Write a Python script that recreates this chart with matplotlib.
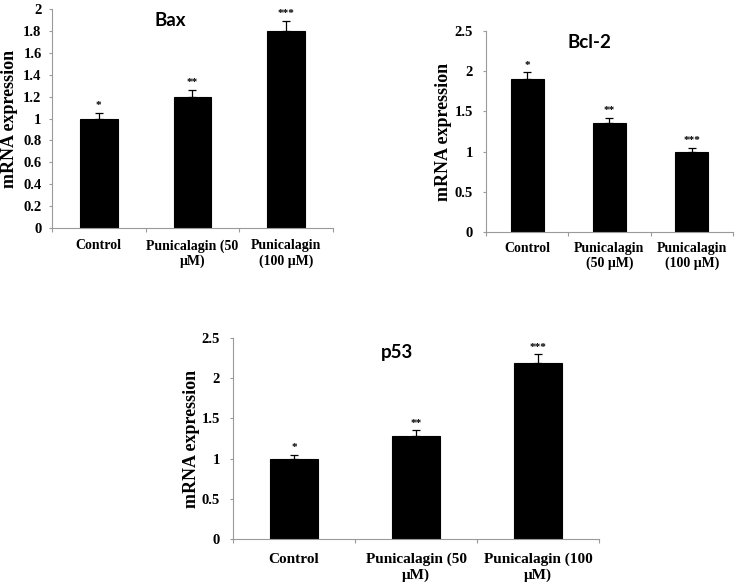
import matplotlib
matplotlib.use("Agg")
import matplotlib.pyplot as plt
from matplotlib.ticker import FuncFormatter, FixedLocator
import numpy as np

# ---- data ----
bax_labels = ["Control", "Punicalagin (50\nμM)", "Punicalagin\n(100 μM)"]
bax_values = [1.0, 1.2, 1.8]
bax_err = [0.05, 0.06, 0.09]
bax_stars = ["*", "**", "***"]

bcl_labels = ["Control", "Punicalagin\n(50 μM)", "Punicalagin\n(100 μM)"]
bcl_values = [1.9, 1.35, 1.0]
bcl_err = [0.09, 0.07, 0.05]
bcl_stars = ["*", "**", "***"]

p53_labels = ["Control", "Punicalagin (50\nμM)", "Punicalagin (100\nμM)"]
p53_values = [1.0, 1.28, 2.19]
p53_err = [0.05, 0.07, 0.11]
p53_stars = ["*", "**", "***"]

SERIF = ["Liberation Serif", "DejaVu Serif"]
TITLEF = ["Lato", "Open Sans", "DejaVu Sans"]
GRAY = "#9a9a9a"

fig = plt.figure(figsize=(7.39, 5.88), dpi=100)

def fmt(v, pos):
    s = f"{v:.1f}"
    if s.endswith(".0"):
        s = s[:-2]
    return s

def panel(rect, labels, values, err, stars, ymax, ystep, title, title_xy, barw,
          ylab_x, xpad, ypad, xfs, yfs):
    ax = fig.add_axes(rect)
    x = np.arange(len(values))
    ax.bar(x, values, width=barw, color="black", edgecolor="black", linewidth=0.8, zorder=2)
    ax.errorbar(x, values, yerr=[np.zeros(len(err)), err], fmt="none", ecolor="black",
                elinewidth=0.9, capsize=3, capthick=0.9, zorder=3)
    for xi, v, e, s in zip(x, values, err, stars):
        ax.text(xi, v + e + ymax * 0.012, s, ha="center", va="bottom", fontsize=8,
                family=SERIF, fontweight="bold")
    ax.set_xlim(-0.5, len(values) - 0.5)
    ax.set_ylim(0, ymax)
    ax.set_yticks(np.arange(0, ymax + 1e-9, ystep))
    ax.yaxis.set_major_formatter(FuncFormatter(fmt))
    ax.set_xticks(x)
    ax.set_xticklabels(labels)
    ax.xaxis.set_minor_locator(FixedLocator(np.arange(-0.5, len(values), 1.0)))
    ax.tick_params(axis="x", which="major", length=0, pad=xpad)
    ax.tick_params(axis="x", which="minor", length=3, color=GRAY, width=0.8)
    ax.tick_params(axis="y", length=2.5, color=GRAY, width=0.8, pad=ypad)
    for lab in ax.get_xticklabels():
        lab.set_family(SERIF)
        lab.set_fontweight("bold")
        lab.set_fontsize(xfs)
    for lab in ax.get_yticklabels():
        lab.set_family(SERIF)
        lab.set_fontweight("bold")
        lab.set_fontsize(yfs)
    for sp in ["top", "right"]:
        ax.spines[sp].set_visible(False)
    for sp in ["left", "bottom"]:
        ax.spines[sp].set_color(GRAY)
        ax.spines[sp].set_linewidth(0.8)
    ax.set_ylabel("mRNA expression", family=SERIF, fontweight="bold", fontsize=13)
    ax.yaxis.set_label_coords(ylab_x, 0.5)
    ax.text(title_xy[0], title_xy[1], title, transform=ax.transAxes, ha="center", va="center",
            family=TITLEF, fontweight="bold", fontsize=13.5)
    return ax

panel([0.0704, 0.6122, 0.380, 0.3724], bax_labels, bax_values, bax_err, bax_stars,
      2.0, 0.2, "Bax", (0.42, 0.95), 0.4, -0.122, 8, 5, 10, 10.5)
panel([0.6577, 0.6054, 0.334, 0.342], bcl_labels, bcl_values, bcl_err, bcl_stars,
      2.5, 0.5, "Bcl-2", (0.42, 0.94), 0.4, -0.138, 7, 7, 10, 10.5)
panel([0.3153, 0.0833, 0.4953, 0.3418], p53_labels, p53_values, p53_err, p53_stars,
      2.5, 0.5, "p53", (0.448, 0.93), 0.4, -0.09, 10, 7, 11, 10.5)

fig.savefig("out.png", dpi=100, facecolor="white")
